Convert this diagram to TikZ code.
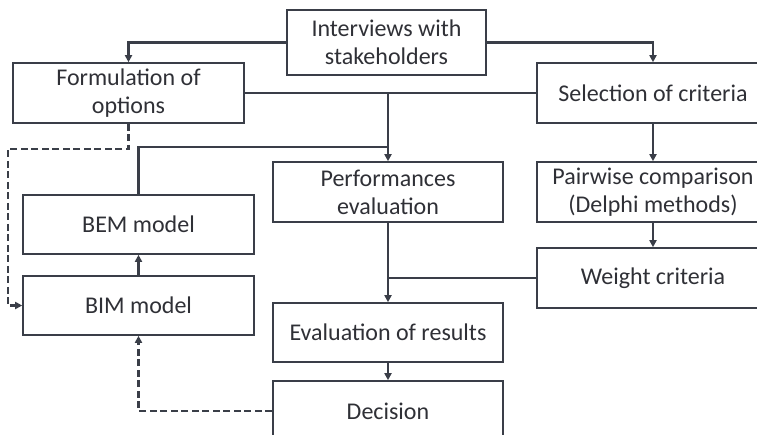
\documentclass[tikz,border=0pt]{standalone}
\usepackage{fontspec}
\setmainfont{Carlito}
\usetikzlibrary{arrows.meta}
\definecolor{ln}{HTML}{3A3E48}
\definecolor{tx}{HTML}{2F3036}
\begin{document}
\begin{tikzpicture}[x=1pt,y=-1pt,
  box/.style={draw=ln,line width=1.6pt,rectangle,inner sep=0pt,align=center,
    text=tx,font=\fontsize{24}{28}\selectfont},
  conn/.style={draw=ln,line width=2.6pt},
  arr/.style={conn,-{Triangle[length=7pt,width=7pt]}},
  darr/.style={draw=ln,line width=2.6pt,dash pattern=on 7pt off 3.5pt,-{Triangle[length=7pt,width=7pt]}}]
\useasboundingbox (0,0) rectangle (757,434);
\node[box,minimum width=199,minimum height=65] (int) at (386.5,42.5) {Interviews with\\stakeholders};
\node[box,minimum width=231,minimum height=60] (form) at (128.5,93) {Formulation of\\options};
\node[box,minimum width=232,minimum height=60] (sel) at (653,93) {Selection of criteria};
\node[box,minimum width=230,minimum height=60] (perf) at (388,192) {Performances\\evaluation};
\node[box,minimum width=232,minimum height=60] (pair) at (653,192) {Pairwise comparison\\(Delphi methods)};
\node[box,minimum width=231,minimum height=59] (bem) at (138.5,224.5) {BEM model};
\node[box,minimum width=231,minimum height=59] (bim) at (138.5,305.5) {BIM model};
\node[box,minimum width=232,minimum height=60] (wgt) at (653,278) {Weight criteria};
\node[box,minimum width=230,minimum height=59] (evr) at (388,332.5) {Evaluation of results};
\node[box,minimum width=230,minimum height=60] (dec) at (388,411) {Decision};
\coordinate (j1) at (perf.north |- form.east);
\coordinate (j2) at (388,147);
\coordinate (j3) at (evr.north |- wgt.west);
\coordinate (d1) at (128.5,149);
\coordinate (d2) at (8,149);
\draw[arr] (int.west) -| (form.north);
\draw[arr] (int.east) -| (sel.north);
\draw[conn] (form.east) -- (sel.west);
\draw[arr] (j1) -- (perf.north);
\draw[conn] (bem.north) |- (j2);
\draw[arr] (sel.south) -- (pair.north);
\draw[arr] (pair.south) -- (wgt.north);
\draw[arr] (perf.south) -- (evr.north);
\draw[conn] (wgt.west) -- (j3);
\draw[arr] (evr.south) -- (dec.north);
\draw[arr] (bim.north) -- (bem.south);
\draw[darr] (form.south) -- (d1) -- (d2) |- (bim.west);
\draw[darr] (dec.west) -| (bim.south);
\end{tikzpicture}
\end{document}
